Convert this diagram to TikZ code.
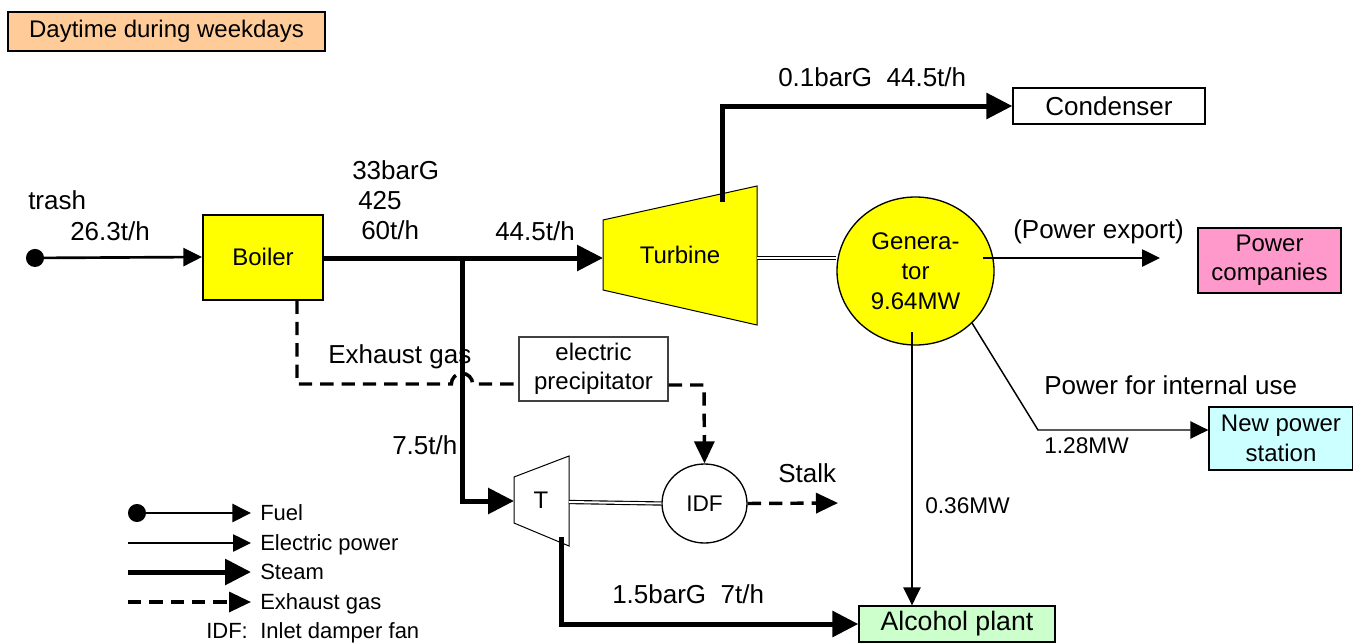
\documentclass[tikz,border=0pt]{standalone}
\usepackage{fontspec}
\setmainfont{Liberation Sans}
\usetikzlibrary{arrows.meta,positioning,shapes.geometric,calc}
\definecolor{yel}{HTML}{FFFF00}
\definecolor{peachc}{HTML}{FFCC99}
\definecolor{pinkc}{HTML}{FF99CC}
\definecolor{cyanc}{HTML}{CCFFFF}
\definecolor{greenc}{HTML}{CCFFCC}

\begin{document}
\begin{tikzpicture}[x=0.75pt,y=-0.75pt,
 box/.style={draw,line width=1pt,inner sep=0pt,align=center,font=\fontsize{18}{22}\selectfont},
 lbl/.style={inner sep=0pt,anchor=base west,font=\fontsize{19.5}{22}\selectfont},
 leglbl/.style={inner sep=0pt,anchor=base west,font=\fontsize{16.5}{19}\selectfont},
 steam/.style={line width=3.75pt,-{Triangle[length=19.5pt,width=19pt]}},
 power/.style={line width=1.1pt,-{Triangle[length=13.5pt,width=13pt]}},
 fuel/.style={line width=2pt,{Circle[length=13.5pt]}-{Triangle[length=14pt,width=13.5pt]}},
 gas/.style={line width=2.6pt,dash pattern=on 10pt off 6pt},
 gasarrow/.style={gas,-{Triangle[length=16.5pt,width=15pt]}},
 shaft/.style={double,double distance=1.5pt,line width=0.85pt}]
 \useasboundingbox (0,0) rectangle (1353,643);

 % boxes and machines
 \node[box,fill=peachc,minimum width=237.75pt,minimum height=29.25pt] (title) at (166.5,31.5) {Daytime during weekdays};
 \node[box,fill=yel,line width=1.5pt,minimum width=90pt,minimum height=63.75pt] (boiler) at (263,257) {Boiler};
 \draw[fill=yel,line width=0.75pt] (603,220) -- (757,186) -- (757,325) -- (603,290) -- cycle;
 \node[font=\fontsize{18}{22}\selectfont] (turbine) at (680,255) {Turbine};
 \coordinate (tbin) at (603,258);
 \coordinate (tbout) at (757,258);
 \coordinate (tbexh) at (722,202);
 \node[box,minimum width=144pt,minimum height=27pt,font=\fontsize{19.5}{22}\selectfont] (condenser) at (1109,106) {Condenser};
 \node[draw,ellipse,fill=yel,line width=1pt,minimum width=117.75pt,minimum height=111pt,
   align=center,inner sep=0pt,font=\fontsize{18}{22.5}\selectfont] (gen) at (915.5,271) {Genera-\\tor\\9.64MW};
 \node[box,fill=pinkc,minimum width=107.25pt,minimum height=48.75pt] (pcomp) at (1269.5,260.5) {Power\\companies};
 \node[box,fill=cyanc,minimum width=108pt,minimum height=47.25pt] (newps) at (1281,438.5) {New power\\station};
 \node[box,fill=greenc,minimum width=147pt,minimum height=27pt,font=\fontsize{20}{22}\selectfont] (alcohol) at (957,624) {Alcohol plant};
 \node[box,draw=darkgray,minimum width=111.75pt,minimum height=48pt] (esp) at (593.5,369) {electric\\precipitator};
 \node[draw,ellipse,line width=1pt,minimum width=63.75pt,minimum height=59.25pt,
   font=\fontsize{17}{20}\selectfont] (idf) at (704.5,503.5) {IDF};
 \draw[line width=0.75pt] (514,477) -- (569,456) -- (569,546) -- (514,523) -- cycle;
 \node[font=\fontsize{18}{22}\selectfont] (tsmall) at (541,500) {T};
 \coordinate (tin) at (514,501);
 \coordinate (tout) at (569,502);
 \coordinate (texh) at (561,537);

 % labels
 \node[lbl] (trashlbl) at (28,209) {trash};
 \node[lbl] (trashrate) at (70,240) {26.3t/h};
 \node[lbl] (pmain) at (352,179) {33barG};
 \node[lbl] (tmain) at (358,209) {425};
 \node[lbl] (fmain) at (361,239) {60t/h};
 \node[lbl] (fturb) at (495,240) {44.5t/h};
 \node[lbl] (fcond) at (778,86) {0.1barG\ \ 44.5t/h};
 \node[lbl] (exptext) at (1013,238) {(Power export)};
 \node[lbl] (inttext) at (1044,394) {Power for internal use};
 \node[lbl,font=\fontsize{17}{20}\selectfont] (intmw) at (1044,453) {1.28MW};
 \node[lbl,font=\fontsize{17}{20}\selectfont] (alcmw) at (925,513) {0.36MW};
 \node[lbl] (gaslbl) at (328,363) {Exhaust gas};
 \node[lbl] (fbranch) at (392,454) {7.5t/h};
 \node[lbl] (stalk) at (778,482) {Stalk};
 \node[lbl] (falc) at (612,603) {1.5barG\ \ 7t/h};

 % fuel and steam
 \coordinate (trashsrc) at (26,258);
 \draw[fuel] (trashsrc) -- (boiler.west);
 \draw[steam] (boiler.east |- tbin) -- (tbin);
 \coordinate (split) at (462,258);
 \draw[steam] (split) -- (split |- tin) -- (tin);
 \draw[steam] (tbexh) -- (tbexh |- condenser.west) -- (condenser.west);
 \draw[steam] (texh) -- (texh |- alcohol.west) -- (alcohol.west);

 % shafts
 \draw[shaft] (tbout) -- (gen.west |- tbout);
 \draw[shaft] (tout) -- (idf.west);

 % electric power
 \coordinate (genexp) at (983,258);
 \coordinate (expend) at (1160,258);
 \draw[power] (genexp) -- (expend);
 \coordinate (genint) at (972,323);
 \coordinate (intbend) at (1038,430);
 \draw[power] (genint) -- (intbend) -- (intbend -| newps.west);
 \coordinate (genalc) at (912,332);
 \draw[power] (genalc) -- (genalc |- alcohol.north);

 % exhaust gas
 \coordinate (gasdrop) at (297,384);
 \coordinate (hop) at (462,384);
 \draw[gas] (boiler.south -| gasdrop) -- (gasdrop) -- ([xshift=-8pt]hop)
   arc[start angle=180,end angle=0,radius=8pt] -- (hop -| esp.west);
 \coordinate (gasturn) at (704,385);
 \draw[gasarrow] (esp.east |- gasturn) -- (gasturn) -- (idf.north);
 \coordinate (stalkend) at (838,503);
 \draw[gasarrow] (idf.east) -- (stalkend);

 % legend
 \foreach \y/\sty/\txt [count=\n] in {513/fuel/Fuel,543/power/Electric power,572/steam/Steam,602/gasarrow/Exhaust gas}{
   \coordinate (legs\n) at (128,\y);
   \coordinate (lege\n) at (251,\y);
   \draw[\sty] (legs\n) -- (lege\n);
   \node[leglbl] (leg\n) at (260,\y+7) {\txt};
 }
 \node[leglbl] (idfkey) at (206,638) {IDF:};
 \node[leglbl] (idfdesc) at (260,638) {Inlet damper fan};
\end{tikzpicture}
\end{document}
